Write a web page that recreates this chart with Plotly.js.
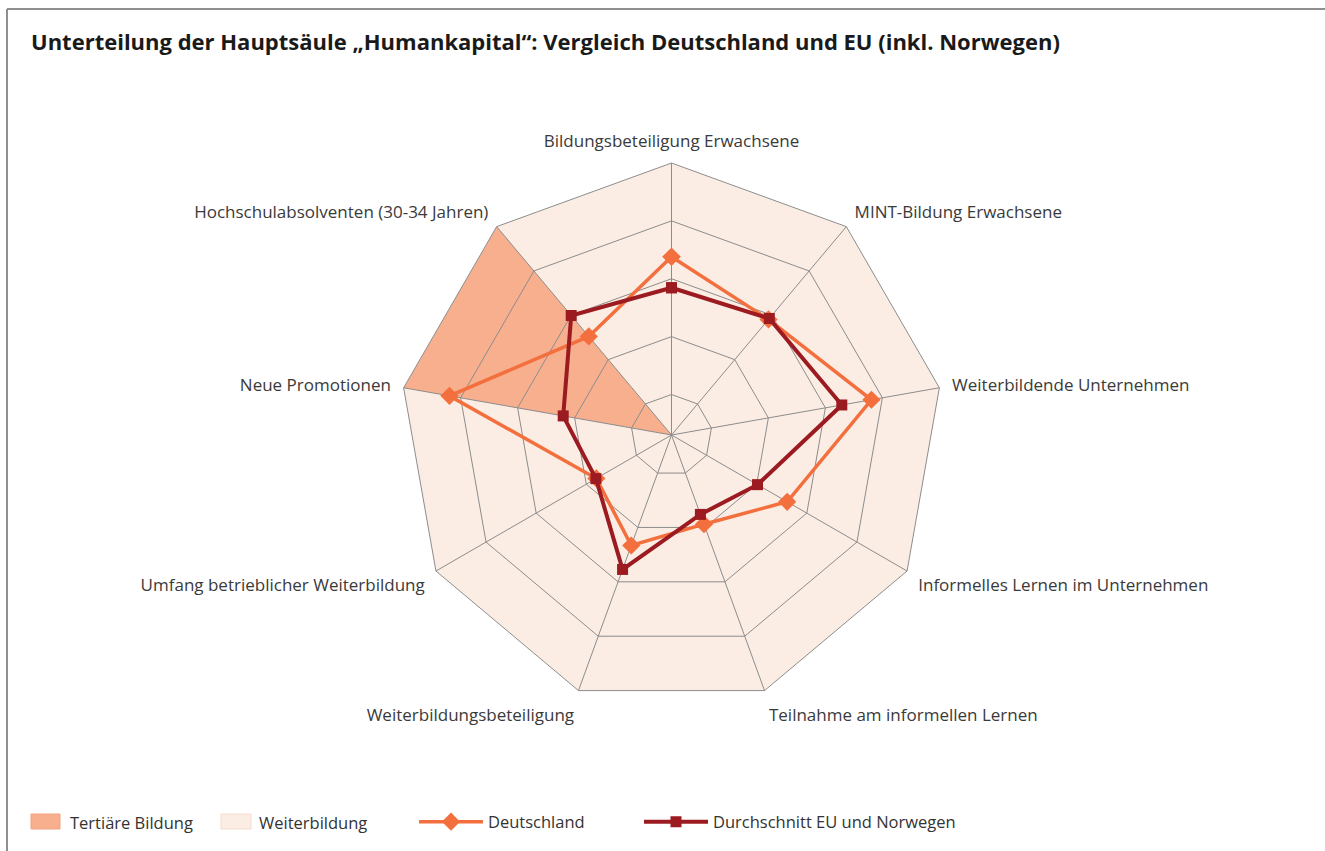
<!DOCTYPE html>
<html><head><meta charset="utf-8">
<script src="https://cdn.plot.ly/plotly-3.0.1.min.js"></script>
<style>html,body{margin:0;padding:0;background:#fff}#chart{width:1325px;height:851px}</style>
</head><body><div id="chart"></div>
<script>
// ---- data ----
const categories = [
  'Bildungsbeteiligung Erwachsene',
  'MINT-Bildung Erwachsene',
  'Weiterbildende Unternehmen',
  'Informelles Lernen im Unternehmen',
  'Teilnahme am informellen Lernen',
  'Weiterbildungsbeteiligung',
  'Umfang betrieblicher Weiterbildung',
  'Neue Promotionen',
  'Hochschulabsolventen (30-34 Jahren)'
];
const deutschland = [59.5, 47.7, 70.2, 40.2, 23.5, 33.3, 20.0, 79.9, 38.1];
const euNorwegen  = [46.1, 48.2, 57.2, 25.4, 19.0, 44.3, 20.2, 30.0, 49.9];
const tertiaerCats = ['Hochschulabsolventen (30-34 Jahren)', 'Neue Promotionen'];
const weiterCats = categories.filter(c => !tertiaerCats.includes(c));
const seriesNames = ['Deutschland', 'Durchschnitt EU und Norwegen'];
const sectorNames = ['Tertiäre Bildung', 'Weiterbildung'];
const titleText = 'Unterteilung der Hauptsäule „Humankapital“: Vergleich Deutschland und EU (inkl. Norwegen)';

// ---- styling ----
const W = 1325, H = 851;
const rMin = -17.5, rMax = 100;
const colTert = '#F7AF8E', colWeit = '#FBEDE4', colDE = '#F36F3D', colEU = '#9B1B20';
const gridCol = '#8c8c8c';
const FONT = 'Open Sans, Noto Sans, sans-serif';
const cx = 671.5, cy = 435, R = 272;
const px = x => x / W, py = y => 1 - y / H;

// fill polygons (sectors) built from category groups
const tertTheta = [tertiaerCats[0], tertiaerCats[0], tertiaerCats[1]];
const tertR = [rMin, rMax, rMax];
const lastCat = categories[categories.length - 1];
const weitTheta = [lastCat, lastCat].concat(categories.slice(0, categories.length - 1));
const weitR = [rMin].concat(weitTheta.slice(1).map(() => rMax));

const close = a => a.concat([a[0]]);

const traces = [
  {type: 'scatterpolar', subplot: 'polar', r: weitR, theta: weitTheta, mode: 'none',
   fill: 'toself', fillcolor: colWeit, showlegend: false, hoverinfo: 'skip', name: sectorNames[1]},
  {type: 'scatterpolar', subplot: 'polar', r: tertR, theta: tertTheta, mode: 'none',
   fill: 'toself', fillcolor: colTert, showlegend: false, hoverinfo: 'skip', name: sectorNames[0]},
  {type: 'scatterpolar', subplot: 'polar2', r: close(deutschland), theta: close(categories),
   mode: 'lines+markers', name: seriesNames[0], legend: 'legend',
   line: {color: colDE, width: 3.5}, marker: {symbol: 'diamond', size: 14, color: colDE}},
  {type: 'scatterpolar', subplot: 'polar2', r: close(euNorwegen), theta: close(categories),
   mode: 'lines+markers', name: seriesNames[1], legend: 'legend2',
   line: {color: colEU, width: 4}, marker: {symbol: 'square', size: 11, color: colEU}}
];

const dom = {x: [px(cx - R), px(cx + R)], y: [py(cy + R), py(cy - R)]};
const angBase = {type: 'category', categoryarray: categories, rotation: 90, direction: 'clockwise'};

const legendBase = {orientation: 'h', xanchor: 'left', yanchor: 'middle', bgcolor: 'rgba(0,0,0,0)',
  font: {family: FONT, size: 16.5, color: '#333'}, itemwidth: 64, itemclick: false, itemdoubleclick: false};

const layout = {
  width: W, height: H,
  margin: {l: 0, r: 0, t: 0, b: 0},
  paper_bgcolor: '#fff',
  font: {family: FONT, color: '#333'},
  title: {text: '<b>' + titleText + '</b>', x: px(31), xref: 'paper', xanchor: 'left',
          y: py(42), yref: 'paper', yanchor: 'middle', font: {family: FONT, size: 22, color: '#1a1a1a'}},
  polar: {
    domain: dom, gridshape: 'linear', bgcolor: 'rgba(0,0,0,0)',
    radialaxis: {range: [rMin, rMax], visible: false},
    angularaxis: Object.assign({}, angBase, {visible: false})
  },
  polar2: {
    domain: dom, gridshape: 'linear', bgcolor: 'rgba(0,0,0,0)',
    radialaxis: {range: [rMin, rMax], tickvals: [0, 25, 50, 75, 100], showticklabels: false,
                 ticks: '', showline: false, gridcolor: gridCol, gridwidth: 1},
    angularaxis: Object.assign({}, angBase, {showline: true, linecolor: gridCol, linewidth: 1,
                 gridcolor: gridCol, gridwidth: 1, ticks: 'outside', ticklen: 9, tickcolor: 'rgba(0,0,0,0)',
                 tickfont: {family: FONT, size: 17, color: '#3a3a3a'}})
  },
  legend: Object.assign({}, legendBase, {x: px(414), y: py(822)}),
  legend2: Object.assign({}, legendBase, {x: px(639), y: py(822)}),
  shapes: [
    {type: 'line', xref: 'paper', yref: 'paper', x0: px(7), x1: 1, y0: py(9), y1: py(9), line: {color: '#8f8f8f', width: 2}},
    {type: 'line', xref: 'paper', yref: 'paper', x0: px(7), x1: px(7), y0: py(9), y1: 0, line: {color: '#8f8f8f', width: 2}},
    {type: 'rect', xref: 'paper', yref: 'paper', x0: px(31), x1: px(60), y0: py(829), y1: py(814),
     fillcolor: colTert, line: {color: '#f2a27f', width: 1}},
    {type: 'rect', xref: 'paper', yref: 'paper', x0: px(221), x1: px(251), y0: py(829), y1: py(814),
     fillcolor: colWeit, line: {color: '#f6dccd', width: 1}}
  ],
  annotations: [
    {xref: 'paper', yref: 'paper', x: px(68), y: py(822), xanchor: 'left', yanchor: 'middle', showarrow: false,
     text: sectorNames[0], font: {family: FONT, size: 16.5, color: '#333'}},
    {xref: 'paper', yref: 'paper', x: px(257), y: py(822), xanchor: 'left', yanchor: 'middle', showarrow: false,
     text: sectorNames[1], font: {family: FONT, size: 16.5, color: '#333'}}
  ]
};

Plotly.newPlot('chart', traces, layout, {displayModeBar: false, staticPlot: true});
</script>
</body></html>
